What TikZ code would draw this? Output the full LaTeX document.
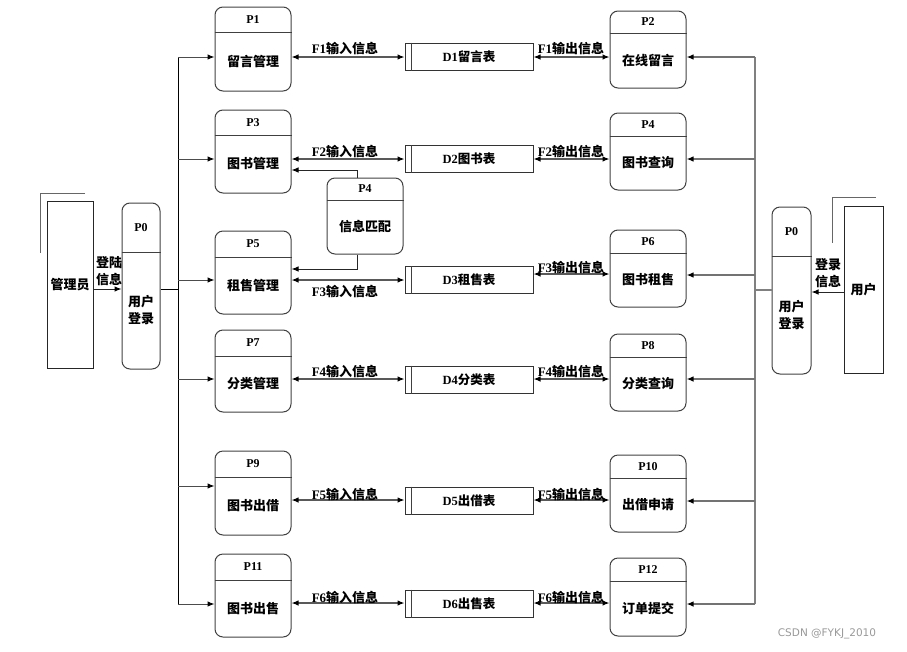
\documentclass[tikz,border=0pt]{standalone}
\usepackage{fontspec}
\setmainfont{Liberation Serif}
\newfontfamily\zhfont{Noto Sans CJK SC}
\newfontfamily\wmfont{DejaVu Sans}
\usetikzlibrary{arrows.meta}

\tikzset{
  procbox/.style={draw=black!75, line width=1pt, rounded corners=8pt, inner sep=0pt},
  divider/.style={draw=black!75, line width=1pt},
  ptitle/.style={font=\bfseries\fontsize{12}{14}\selectfont, inner sep=0pt},
  ptext/.style={font=\zhfont\bfseries\fontsize{13}{17}\selectfont, align=center, inner sep=0pt},
  store/.style={draw=black!80, line width=1pt, minimum width=128pt, minimum height=27pt, inner sep=0pt,
    font=\bfseries\fontsize{12.5}{14}\selectfont},
  entity/.style={draw=black!85, line width=1pt, inner sep=0pt},
  shadowline/.style={draw=black!60, line width=1pt},
  flabel/.style={font=\bfseries\fontsize{13}{15}\selectfont, inner sep=0pt},
  tip/.tip={Latex[length=7pt,width=5.5pt,color=black]},
  flow/.style={tip-tip, draw=black!65, line width=1.2pt},
  arr/.style={-tip, draw=black!85, line width=1pt},
  lline/.style={draw=black, line width=0.8pt},
  lbusarr/.style={-tip, draw=black!70, line width=1pt},
  rline/.style={draw=black!50, line width=1.5pt},
  rbusarr/.style={-tip, draw=black!55, line width=1.3pt},
}

\newcommand\zh[1]{{\zhfont #1}}
% process box: [width] name, x, top, bottom, divider, title, text
\newcommand\proc[8][76]{%
  \node[procbox, minimum width=#1pt, minimum height={#5-#4}] (#2) at (#3,{(#4+#5)/2}) {};
  \draw[divider] (#2.west |- 0,#6) -- (#2.east |- 0,#6);
  \node[ptitle] (#2t) at (#3,{(#4+#6)/2}) {#7};
  \node[ptext] (#2x) at (#3,{(#6+#5)/2}) {#8};
}
% data store: name, y, text
\newcommand\store[3]{%
  \node[store] (#1) at (469,#2) {#3};
  \draw[divider] ([xshift=7pt]#1.north west) -- ([xshift=7pt]#1.south west);
}

\begin{document}
\begin{tikzpicture}[x=1pt,y=-1pt]
  \useasboundingbox (0,0) rectangle (907,651);

  % external entities
  \node[entity, minimum width=46pt, minimum height=167pt] (admin) at (70,284.5) {\zh{\bfseries\fontsize{13}{15}\selectfont 管理员}};
  \draw[shadowline] (85,193) -| (40,253);
  \node[entity, minimum width=39pt, minimum height=167pt] (user) at (863.5,289.5) {\zh{\bfseries\fontsize{13}{15}\selectfont 用户}};
  \draw[shadowline] (876,197) -| (832,243);

  % login processes
  \proc[38]{p0l}{141}{203}{369}{252}{P0}{用户\\登录}
  \proc[39]{p0r}{791.5}{207}{374}{256}{P0}{用户\\登录}

  % left processes
  \proc{p1}{253}{7}{91}{32}{P1}{留言管理}
  \proc{p3}{253}{110}{193}{135}{P3}{图书管理}
  \proc{p5}{253}{231}{314}{257}{P5}{租售管理}
  \proc{p7}{253}{330}{412}{356}{P7}{分类管理}
  \proc{p9}{253}{451}{535}{477}{P9}{图书出借}
  \proc{p11}{253}{554}{637}{580}{P11}{图书出售}

  % middle process
  \proc{p4m}{365}{178}{254}{200}{P4}{信息匹配}

  % right processes
  \proc{p2}{648}{11}{88}{33}{P2}{在线留言}
  \proc{p4}{648}{113}{190}{136}{P4}{图书查询}
  \proc{p6}{648}{230}{307}{253}{P6}{图书租售}
  \proc{p8}{648}{334}{411}{357}{P8}{分类查询}
  \proc{p10}{648}{455}{532}{478}{P10}{出借申请}
  \proc{p12}{648}{558}{636}{581}{P12}{订单提交}

  % data stores
  \store{d1}{56.5}{D1\zh{留言表}}
  \store{d2}{159}{D2\zh{图书表}}
  \store{d3}{280}{D3\zh{租售表}}
  \store{d4}{379.5}{D4\zh{分类表}}
  \store{d5}{500.5}{D5\zh{出借表}}
  \store{d6}{603.5}{D6\zh{出售表}}

  % login flows
  \draw[arr] (admin.east |- 0,289) -- (p0l.west |- 0,289);
  \node[ptext] (lgl) at (109,271) {登陆\\信息};
  \draw[arr] (user.west |- 0,292) -- (p0r.east |- 0,292);
  \node[ptext] (lgr) at (828,273) {登录\\信息};

  % left bus
  \coordinate (lbus) at (178,0);
  \draw[lline] (p0l.east |- 0,289) -- (lbus |- 0,289);
  \draw[lline] (lbus |- 0,57) -- (lbus |- 0,604);
  \foreach \n/\y in {p1/57,p3/159,p5/280,p7/379,p9/486,p11/604}
    \draw[lbusarr] (lbus |- 0,\y) -- (\n.west |- 0,\y);

  % right bus
  \coordinate (rbus) at (755,0);
  \draw[rline] (p0r.west |- 0,290) -- (rbus |- 0,290);
  \draw[rline] (rbus |- 0,57) -- (rbus |- 0,604);
  \foreach \n/\y in {p2/57,p4/159,p6/275,p8/379,p10/501,p12/604}
    \draw[rbusarr] (rbus |- 0,\y) -- (\n.east |- 0,\y);

  % flows to and from the stores
  \foreach \p/\d/\y in {p1/d1/57,p3/d2/159,p5/d3/280,p7/d4/379,p9/d5/500,p11/d6/603}
    \draw[flow] (\p.east |- 0,\y) -- (\d.west |- 0,\y);
  \foreach \d/\p/\y in {d1/p2/57,d2/p4/159,d3/p6/274,d4/p8/379,d5/p10/500,d6/p12/603}
    \draw[flow] (\d.east |- 0,\y) -- (\p.west |- 0,\y);
  \foreach \i/\y in {1/49,2/152,3/292,4/372,5/494,6/597}
    \node[flabel] (fin\i) at (345,\y) {F\i\zh{输入信息}};
  \foreach \i/\y in {1/49,2/152,3/268,4/372,5/494,6/597}
    \node[flabel] (fout\i) at (571,\y) {F\i\zh{输出信息}};

  % matching
  \draw[arr] ([xshift=-8pt]p4m.north) |- (p3.east |- 0,170);
  \draw[arr] ([xshift=-8pt]p4m.south) |- (p5.east |- 0,269);

  \node[font=\wmfont\fontsize{10.5}{12}\selectfont, text=black!40] (wm) at (827,634) {CSDN @FYKJ\_2010};
\end{tikzpicture}
\end{document}
